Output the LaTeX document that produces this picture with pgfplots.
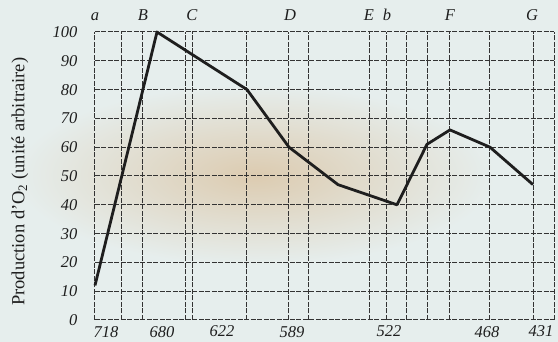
\documentclass[border=0pt]{standalone}
\usepackage{pgfplots}
\pgfplotsset{compat=1.18}
\usepackage{fontspec}
\setmainfont{Liberation Serif}
\definecolor{paper}{HTML}{E6EEED}
\definecolor{stain}{HTML}{DCCBB0}
\definecolor{ink}{HTML}{1E1E1E}
\definecolor{gridc}{HTML}{333333}
\begin{document}
\begin{tikzpicture}
\fill[paper] (-95pt,-22pt) rectangle (463pt,320pt);
\begin{scope}
\clip (-95pt,-22pt) rectangle (463pt,320pt);
\shade[inner color=stain, outer color=paper] (160pt,145pt) ellipse [x radius=240pt, y radius=90pt];
\end{scope}
\begin{axis}[
  at={(0,0)}, anchor=south west,
  scale only axis, width=459pt, height=288pt,
  xmin=95, xmax=554, ymin=0, ymax=100,
  clip=false,
  xtick={95,122,143,186,193,247,289,309,370,387,407,428,450,490,533,554},
  xticklabels={},
  extra x ticks={106,162,222,292,389,487,541},
  extra x tick labels={718,680,622,589,522,468,431},
  extra x tick style={grid=none, major tick length=0pt},
  ytick={0,10,...,100},
  grid=major,
  major grid style={gridc, line width=1pt, dash pattern=on 5pt off 1.5pt},
  axis line style={draw=none},
  major tick length=0pt,
  /pgf/number format/assume math mode=true,
  tick label style={font=\fontsize{16.5}{18}\selectfont\itshape, text=ink},
  yticklabel style={anchor=east, xshift=-14pt},
  xticklabel style={anchor=north, yshift=-2.5pt},
  ylabel={Production d'O\textsubscript{2} (unité arbitraire)},
  every axis y label/.style={at={(axis description cs:-0.1634,0.48)}, rotate=90, anchor=center},
  ylabel style={font=\fontsize{18.5}{20}\selectfont, text=ink},
]
\addplot[ink, line width=2.8pt, line join=round] coordinates {
  (95,12) (157,100) (247,80) (289,60) (338,47) (397,40) (427,61) (450,66) (490,60) (533,47)
};
\foreach \lx/\lt in {95/a,143/B,192/C,290/D,369/E,387/b,450/F,532/G} {
  \edef\tmp{\noexpand\node[font=\noexpand\fontsize{16.5}{18}\noexpand\selectfont\noexpand\itshape, text=ink, anchor=base] at (axis cs:\lx,100) [yshift=11pt] {\lt};}
  \tmp
}
\end{axis}
\end{tikzpicture}
\end{document}
